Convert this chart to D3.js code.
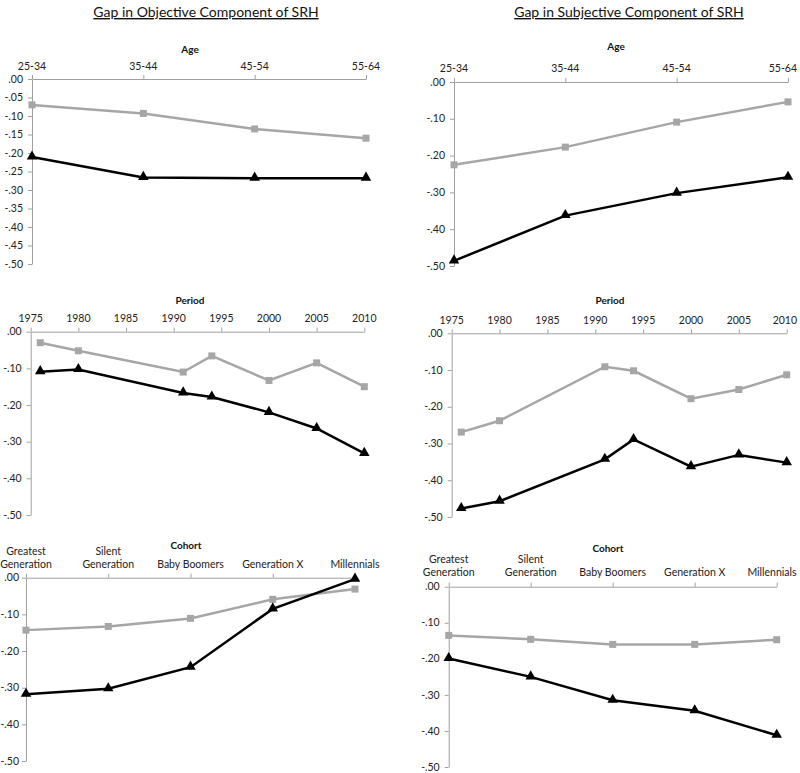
<!DOCTYPE html>
<html>
<head>
<meta charset="utf-8">
<script src="https://cdn.jsdelivr.net/npm/d3@7"></script>
<style>
  html, body { margin: 0; padding: 0; background: #fff; }
  svg { display: block; }
  text { font-family: Lato, "Open Sans", sans-serif; }
</style>
</head>
<body>
<svg id="chart" width="800" height="773"></svg>
<script>
// ---------- data ----------
const ageCategories = ["25-34", "35-44", "45-54", "55-64"];
const periodYears = [1976, 1980, 1991, 1994, 2000, 2005, 2010];
const periodTicks = [1975, 1980, 1985, 1990, 1995, 2000, 2005, 2010];
const cohortCategories = ["Greatest Generation", "Silent Generation", "Baby Boomers", "Generation X", "Millennials"];
const cohortLabelLines = [["Greatest", "Generation"], ["Silent", "Generation"], ["Baby Boomers"], ["Generation X"], ["Millennials"]];

const objAgeGray   = [-0.070, -0.093, -0.135, -0.160];
const objAgeBlack  = [-0.211, -0.266, -0.268, -0.268];
const subjAgeGray  = [-0.225, -0.177, -0.109, -0.054];
const subjAgeBlack = [-0.486, -0.363, -0.302, -0.259];

const objPeriodGray   = [-0.030, -0.052, -0.110, -0.066, -0.133, -0.085, -0.150];
const objPeriodBlack  = [-0.109, -0.103, -0.167, -0.178, -0.220, -0.264, -0.332];
const subjPeriodGray  = [-0.269, -0.238, -0.091, -0.102, -0.178, -0.153, -0.113];
const subjPeriodBlack = [-0.477, -0.457, -0.343, -0.289, -0.363, -0.331, -0.352];

const objCohortGray   = [-0.143, -0.133, -0.111, -0.059, -0.031];
const objCohortBlack  = [-0.318, -0.303, -0.244, -0.085, -0.004];
const subjCohortGray  = [-0.135, -0.146, -0.160, -0.160, -0.147];
const subjCohortBlack = [-0.199, -0.250, -0.315, -0.344, -0.412];

const columnTitles = ["Gap in Objective Component of SRH", "Gap in Subjective Component of SRH"];

// ---------- drawing ----------
const W = 800;
const svg = d3.select("#chart");
const GRAY = "#a6a6a6", BLACK = "#000", AXIS = "#a0a0a0";
const FONT = "Lato, 'Open Sans', sans-serif";
const fmt = v => {
  const a = Math.abs(v);
  const s = d3.format(".2f")(a).replace(/^0\./, ".");
  return (v < -1e-9 ? "-" : "") + s;
};

svg.append("text").attr("x", 206).attr("y", 17).attr("text-anchor", "middle")
  .style("font-size", "14px").style("text-decoration", "underline").attr("fill", "#111").text(columnTitles[0]);
svg.append("text").attr("x", 629).attr("y", 17).attr("text-anchor", "middle")
  .style("font-size", "14px").style("text-decoration", "underline").attr("fill", "#111").text(columnTitles[1]);

// keep a centred label inside the picture (as the original shifts its last label)
function clampLabel(t) {
  const bb = t.node().getBBox();
  const right = bb.x + bb.width;
  if (right > W - 3) t.attr("x", +t.attr("x") - (right - (W - 3)));
}

function panel(cfg) {
  const g = svg.append("g");
  const y = d3.scaleLinear().domain([0, -0.5]).range([cfg.yTop, cfg.yBot]);
  let x, xs;
  if (cfg.type === "cat") {
    x = d3.scalePoint().domain(cfg.cats).range([cfg.x0, cfg.x1]);
    xs = cfg.cats.map(c => x(c));
  } else {
    x = d3.scaleLinear().domain([cfg.ticks[0], cfg.ticks[cfg.ticks.length - 1]]).range([cfg.x0, cfg.x1]);
    xs = cfg.xVals.map(v => x(v));
  }

  // y axis
  const yTicks = d3.range(0, -0.5 - 1e-9, -cfg.step);
  const ya = g.append("g").attr("transform", `translate(${cfg.x0},0)`)
    .call(d3.axisLeft(y).tickValues(yTicks).tickFormat(fmt).tickSize(4).tickSizeOuter(0).tickPadding(cfg.pad || 5));
  ya.select(".domain").attr("stroke", AXIS);
  ya.selectAll(".tick line").attr("stroke", AXIS);
  ya.selectAll(".tick text").style("font-size", "10.5px").attr("fill", "#222").style("font-family", FONT)
    .attr("dy", "0.3em");

  // x axis (top)
  let xa;
  if (cfg.type === "cat") {
    xa = d3.axisTop(x).tickSize(4).tickSizeOuter(0).tickFormat("");
  } else {
    xa = d3.axisTop(x).tickValues(cfg.ticks).tickSize(4).tickSizeOuter(0).tickFormat("");
  }
  const xg = g.append("g").attr("transform", `translate(0,${cfg.yTop})`).call(xa);
  xg.select(".domain").attr("stroke", AXIS);
  xg.selectAll(".tick line").attr("stroke", AXIS);

  // x tick labels
  if (cfg.type === "cat") {
    cfg.cats.forEach((c, i) => {
      const lines = cfg.lines ? cfg.lines[i] : [c];
      const n = lines.length;
      lines.forEach((ln, j) => {
        const t = g.append("text").attr("x", x(c)).attr("y", cfg.labelY - (n - 1 - j) * cfg.lineH)
          .attr("text-anchor", "middle").style("font-size", "10.5px").attr("fill", "#222").text(ln);
        clampLabel(t);
      });
    });
  } else {
    cfg.ticks.forEach(tk => {
      const t = g.append("text").attr("x", x(tk)).attr("y", cfg.labelY).attr("text-anchor", "middle")
        .style("font-size", "10.5px").attr("fill", "#222").text(tk);
      clampLabel(t);
    });
  }

  // axis title
  g.append("text").attr("x", cfg.titleX).attr("y", cfg.titleY).attr("text-anchor", "middle")
    .style("font-size", "10px").style("font-weight", "bold").attr("fill", "#111").text(cfg.title);

  const line = d3.line().x(d => d[0]).y(d => y(d[1]));
  const grayPts = xs.map((xv, i) => [xv, cfg.gray[i]]);
  const blackPts = xs.map((xv, i) => [xv, cfg.black[i]]);

  g.append("path").attr("d", line(grayPts)).attr("fill", "none").attr("stroke", GRAY).attr("stroke-width", 2.5);
  g.selectAll(".sq").data(grayPts).enter().append("rect")
    .attr("x", d => d[0] - 3.5).attr("y", d => y(d[1]) - 3.5).attr("width", 7).attr("height", 7).attr("fill", GRAY);

  g.append("path").attr("d", line(blackPts)).attr("fill", "none").attr("stroke", BLACK).attr("stroke-width", 2.5);
  const tri = d3.symbol().type(d3.symbolTriangle).size(48);
  g.selectAll(".tri").data(blackPts).enter().append("path")
    .attr("d", tri).attr("transform", d => `translate(${d[0]},${y(d[1]) - 0.5})`).attr("fill", BLACK);
}

panel({ type: "cat", cats: ageCategories, x0: 32, x1: 366, yTop: 79, yBot: 264, step: 0.05,
  labelY: 70, lineH: 12.5, title: "Age", titleX: 190, titleY: 53, gray: objAgeGray, black: objAgeBlack });
panel({ type: "cat", cats: ageCategories, x0: 454, x1: 788, yTop: 82, yBot: 266, step: 0.1,
  labelY: 72, lineH: 12.5, title: "Age", titleX: 616, titleY: 50, gray: subjAgeGray, black: subjAgeBlack });

panel({ type: "lin", xVals: periodYears, ticks: periodTicks, x0: 30.7, x1: 364.3, yTop: 331.7, yBot: 515, step: 0.1,
  labelY: 322, title: "Period", titleX: 190, titleY: 304, gray: objPeriodGray, black: objPeriodBlack });
panel({ type: "lin", xVals: periodYears, ticks: periodTicks, x0: 451.7, x1: 786.7, yTop: 333.3, yBot: 517, step: 0.1,
  labelY: 324, title: "Period", titleX: 610, titleY: 304, gray: subjPeriodGray, black: subjPeriodBlack });

panel({ type: "cat", cats: cohortCategories, lines: cohortLabelLines, x0: 26, x1: 355, yTop: 577.7, yBot: 761, step: 0.1,
  pad: 3, labelY: 567.5, lineH: 12.7, title: "Cohort", titleX: 186, titleY: 549, gray: objCohortGray, black: objCohortBlack });
panel({ type: "cat", cats: cohortCategories, lines: cohortLabelLines, x0: 448.7, x1: 776.7, yTop: 586.7, yBot: 767, step: 0.1,
  labelY: 576, lineH: 13.3, title: "Cohort", titleX: 608, titleY: 552, gray: subjCohortGray, black: subjCohortBlack });
</script>
</body>
</html>
